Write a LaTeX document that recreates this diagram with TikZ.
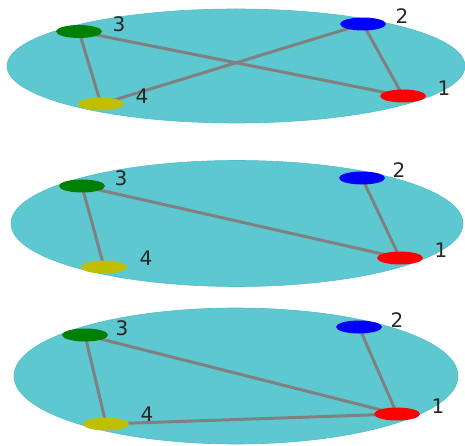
\documentclass[tikz,border=0pt]{standalone}
\usepackage{fontspec}
\setmainfont{DejaVu Sans}
\usetikzlibrary{shapes.geometric}
\definecolor{disk}{RGB}{94,200,208}
\definecolor{diskedge}{RGB}{80,190,200}
\definecolor{ggreen}{RGB}{0,128,0}
\definecolor{gblue}{RGB}{0,0,255}
\definecolor{gred}{RGB}{255,0,0}
\definecolor{gyellow}{RGB}{191,191,0}
\definecolor{edgegray}{RGB}{128,128,128}
\tikzset{
  vtx/.style={ellipse, inner sep=0pt, minimum width=46pt, minimum height=13pt},
  lbl/.style={inner sep=0pt, font=\fontsize{20}{24}\selectfont, text=black!85},
  link/.style={draw=edgegray, line width=3pt},
  plate/.style={fill=disk, draw=diskedge, line width=0.6pt}
}
\begin{document}
\begin{tikzpicture}[x=1pt,y=-1pt]
\useasboundingbox (0,0) rectangle (465,446);
% ---------- panel 1
\fill[plate] (236,66) ellipse [x radius=229, y radius=57];
\coordinate (a1) at (403,96);
\coordinate (a2) at (363,24);
\coordinate (a3) at (79,31.5);
\coordinate (a4) at (101,104);
\draw[link] (a3) -- (a1);
\draw[link] (a2) -- (a4);
\draw[link] (a3) -- (a4);
\draw[link] (a2) -- (a1);
\node[vtx, fill=gred] (n11) at (a1) {};
\node[vtx, fill=gblue] (n12) at (a2) {};
\node[vtx, fill=ggreen] (n13) at (a3) {};
\node[vtx, fill=gyellow] (n14) at (a4) {};
\node[lbl] (l11) at (444,88) {1};
\node[lbl] (l12) at (402,16) {2};
\node[lbl] (l13) at (119,24) {3};
\node[lbl] (l14) at (142,96) {4};
% ---------- panel 2
\fill[plate] (237,223.5) ellipse [x radius=226, y radius=63];
\coordinate (b1) at (400,258);
\coordinate (b2) at (362,178);
\coordinate (b3) at (82,186);
\coordinate (b4) at (104,267);
\draw[link] (b3) -- (b1);
\draw[link] (b3) -- (b4);
\draw[link] (b2) -- (b1);
\node[vtx, fill=gred] (n21) at (b1) {};
\node[vtx, fill=gblue] (n22) at (b2) {};
\node[vtx, fill=ggreen] (n23) at (b3) {};
\node[vtx, fill=gyellow] (n24) at (b4) {};
\node[lbl] (l21) at (441,250) {1};
\node[lbl] (l22) at (399,170) {2};
\node[lbl] (l23) at (121,178) {3};
\node[lbl] (l24) at (146,258) {4};
% ---------- panel 3
\fill[plate] (236,376) ellipse [x radius=222, y radius=68];
\coordinate (c1) at (397,414);
\coordinate (c2) at (359,327);
\coordinate (c3) at (85,335);
\coordinate (c4) at (106,424);
\draw[link] (c3) -- (c1);
\draw[link] (c3) -- (c4);
\draw[link] (c2) -- (c1);
\draw[link] (c4) -- (c1);
\node[vtx, fill=gred] (n31) at (c1) {};
\node[vtx, fill=gblue] (n32) at (c2) {};
\node[vtx, fill=ggreen] (n33) at (c3) {};
\node[vtx, fill=gyellow] (n34) at (c4) {};
\node[lbl] (l31) at (438,406) {1};
\node[lbl] (l32) at (397,320) {2};
\node[lbl] (l33) at (122,328) {3};
\node[lbl] (l34) at (147,414) {4};
\end{tikzpicture}
\end{document}
